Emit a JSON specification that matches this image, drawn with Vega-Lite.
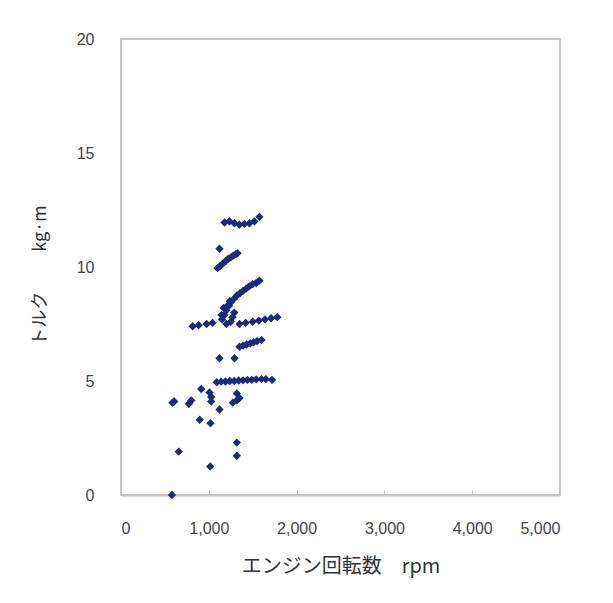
{
  "$schema": "https://vega.github.io/schema/vega-lite/v6.json",
  "width": 439,
  "height": 456,
  "autosize": "none",
  "padding": {"left": 121, "top": 39, "right": 53, "bottom": 108},
  "background": "white",
  "config": {
    "view": {"stroke": "#c4c4c4", "strokeWidth": 2},
    "axis": {"labelFont": "Liberation Sans", "titleFont": "Noto Sans CJK JP", "labelColor": "#444", "titleColor": "#333", "grid": false, "labelFontSize": 16, "titleFontWeight": "normal"}
  },
  "data": {
    "values": [
      {"rpm": 580, "torque": 0.0},
      {"rpm": 658, "torque": 1.9},
      {"rpm": 1016, "torque": 1.25},
      {"rpm": 1319, "torque": 1.72},
      {"rpm": 1319, "torque": 2.3},
      {"rpm": 586, "torque": 4.05},
      {"rpm": 606, "torque": 4.1},
      {"rpm": 773, "torque": 4.0},
      {"rpm": 800, "torque": 4.15},
      {"rpm": 896, "torque": 3.3},
      {"rpm": 1020, "torque": 3.15},
      {"rpm": 913, "torque": 4.65},
      {"rpm": 1008, "torque": 4.5},
      {"rpm": 1027, "torque": 4.3},
      {"rpm": 1027, "torque": 4.1},
      {"rpm": 1122, "torque": 3.75},
      {"rpm": 1274, "torque": 4.05},
      {"rpm": 1319, "torque": 4.15},
      {"rpm": 1350, "torque": 4.25},
      {"rpm": 1319, "torque": 4.45},
      {"rpm": 1090, "torque": 4.95},
      {"rpm": 1140, "torque": 4.97},
      {"rpm": 1190, "torque": 4.98},
      {"rpm": 1240, "torque": 5.0},
      {"rpm": 1290, "torque": 5.0},
      {"rpm": 1340, "torque": 5.02},
      {"rpm": 1390, "torque": 5.03},
      {"rpm": 1440, "torque": 5.05},
      {"rpm": 1490, "torque": 5.05},
      {"rpm": 1540, "torque": 5.07},
      {"rpm": 1600, "torque": 5.08},
      {"rpm": 1650, "torque": 5.08},
      {"rpm": 1720, "torque": 5.05},
      {"rpm": 1122, "torque": 6.0},
      {"rpm": 1293, "torque": 6.0},
      {"rpm": 1350, "torque": 6.5},
      {"rpm": 1390, "torque": 6.55},
      {"rpm": 1430, "torque": 6.6},
      {"rpm": 1470, "torque": 6.65},
      {"rpm": 1510, "torque": 6.7},
      {"rpm": 1550, "torque": 6.75},
      {"rpm": 1600, "torque": 6.8},
      {"rpm": 816, "torque": 7.4},
      {"rpm": 884, "torque": 7.45},
      {"rpm": 975, "torque": 7.5},
      {"rpm": 1043, "torque": 7.55},
      {"rpm": 1350, "torque": 7.5},
      {"rpm": 1420, "torque": 7.55},
      {"rpm": 1500, "torque": 7.6},
      {"rpm": 1570, "torque": 7.65},
      {"rpm": 1640, "torque": 7.7},
      {"rpm": 1710, "torque": 7.75},
      {"rpm": 1780, "torque": 7.8},
      {"rpm": 1150, "torque": 7.7},
      {"rpm": 1180, "torque": 7.9},
      {"rpm": 1200, "torque": 8.1},
      {"rpm": 1230, "torque": 8.3},
      {"rpm": 1250, "torque": 7.6},
      {"rpm": 1270, "torque": 7.8},
      {"rpm": 1290, "torque": 8.0},
      {"rpm": 1200, "torque": 7.5},
      {"rpm": 1240, "torque": 8.5},
      {"rpm": 1170, "torque": 8.2},
      {"rpm": 1145, "torque": 7.9},
      {"rpm": 1215, "torque": 8.3},
      {"rpm": 1250, "torque": 8.45},
      {"rpm": 1285, "torque": 8.6},
      {"rpm": 1320, "torque": 8.75},
      {"rpm": 1355, "torque": 8.85},
      {"rpm": 1390, "torque": 8.95},
      {"rpm": 1425, "torque": 9.05},
      {"rpm": 1460, "torque": 9.15},
      {"rpm": 1500, "torque": 9.25},
      {"rpm": 1540, "torque": 9.3},
      {"rpm": 1576, "torque": 9.4},
      {"rpm": 1100, "torque": 9.95},
      {"rpm": 1130, "torque": 10.05},
      {"rpm": 1160, "torque": 10.15},
      {"rpm": 1190, "torque": 10.25},
      {"rpm": 1220, "torque": 10.35},
      {"rpm": 1250, "torque": 10.42},
      {"rpm": 1280, "torque": 10.5},
      {"rpm": 1310, "torque": 10.57},
      {"rpm": 1327, "torque": 10.6},
      {"rpm": 1122, "torque": 10.8},
      {"rpm": 1179, "torque": 11.95},
      {"rpm": 1236, "torque": 12.0},
      {"rpm": 1293, "torque": 11.92},
      {"rpm": 1349, "torque": 11.86},
      {"rpm": 1406, "torque": 11.89},
      {"rpm": 1463, "torque": 11.92},
      {"rpm": 1519, "torque": 12.0},
      {"rpm": 1576, "torque": 12.2}
    ]
  },
  "mark": {"type": "point", "shape": "diamond", "filled": true, "size": 70, "color": "#1c2a78", "opacity": 1},
  "encoding": {
    "x": {
      "field": "rpm", "type": "quantitative",
      "scale": {"domain": [0, 5000], "nice": false},
      "axis": {"values": [0, 1000, 2000, 3000, 4000, 5000], "format": ",.0f", "tickSize": -5, "tickColor": "#c4c4c4", "domainColor": "#c4c4c4", "domainWidth": 2, "labelPadding": 30, "title": "エンジン回転数　rpm", "titleFontSize": 20, "titlePadding": 20}
    },
    "y": {
      "field": "torque", "type": "quantitative",
      "scale": {"domain": [0, 20], "nice": false},
      "axis": {"values": [0, 5, 10, 15, 20], "ticks": false, "domain": false, "labelPadding": 27, "title": "トルク　　 kg·m", "titleFontSize": 18, "titleX": -81, "titleY": 236, "titleBaseline": "middle"}
    }
  }
}
